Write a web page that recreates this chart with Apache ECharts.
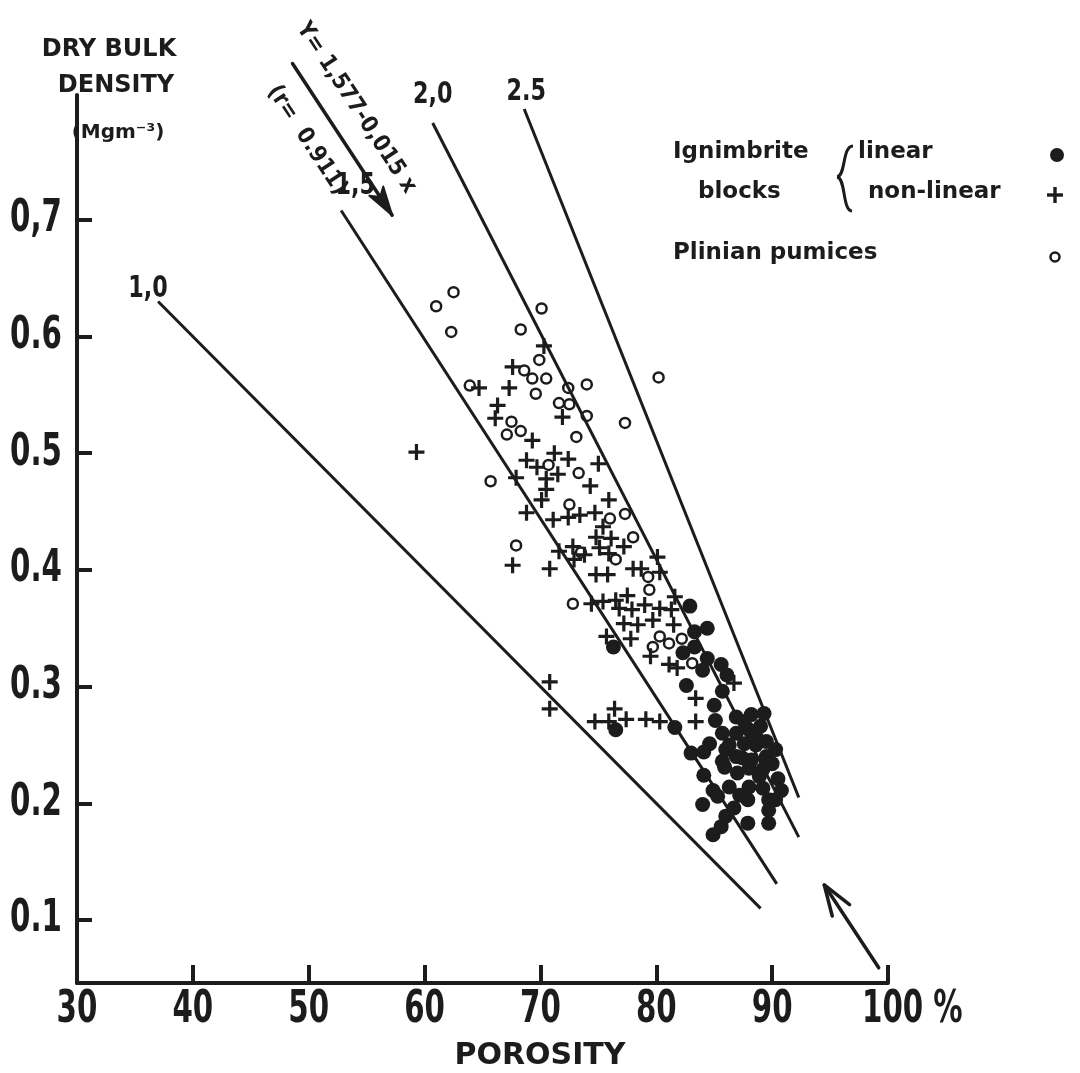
<!DOCTYPE html>
<html>
<head>
<meta charset="utf-8">
<title>Dry bulk density vs porosity</title>
<script src="https://cdn.jsdelivr.net/npm/echarts@6/dist/echarts.min.js"></script>
<style>
  html, body { margin: 0; padding: 0; background: #ffffff; }
  #chart { width: 1080px; height: 1073px; }
</style>
</head>
<body>
<div id="chart"></div>
<script>
// ---- Sample values: [porosity %, dry bulk density Mg m^-3] ----
const linearBlocks = [
  [76.3,0.334],[76.5,0.263],[81.6,0.265],[82.9,0.369],[83.3,0.347],[84.4,0.350],[83.3,0.334],
  [82.3,0.329],[84.4,0.324],[85.6,0.319],[84.0,0.314],[86.1,0.310],[82.6,0.301],[85.7,0.296],
  [85.0,0.284],[85.1,0.271],[86.9,0.274],[88.2,0.276],[89.3,0.277],[85.7,0.260],[86.9,0.260],
  [88.0,0.263],[89.0,0.266],[84.6,0.251],[86.3,0.250],[87.6,0.251],[88.6,0.250],[89.5,0.253],
  [83.0,0.243],[84.1,0.244],[85.7,0.236],[86.9,0.240],[88.2,0.237],[89.5,0.240],[90.0,0.234],
  [84.1,0.224],[85.9,0.231],[87.0,0.226],[88.0,0.230],[89.2,0.229],[90.5,0.221],[84.9,0.211],
  [86.3,0.214],[88.0,0.214],[89.2,0.213],[90.8,0.211],[84.0,0.199],[85.3,0.206],[87.9,0.203],
  [89.7,0.203],[86.7,0.196],[89.7,0.194],[89.7,0.183],[86.0,0.189],[87.9,0.183],[85.6,0.180],
  [84.9,0.173],[90.3,0.203],[87.6,0.270],[88.6,0.257],[87.4,0.239],[88.9,0.223],[87.2,0.207],
  [86.0,0.246],[90.3,0.246]
];

const nonLinearBlocks = [
  [70.3,0.592],[67.6,0.574],[64.7,0.556],[67.3,0.556],[66.3,0.541],[66.1,0.530],[71.9,0.531],
  [59.3,0.501],[69.3,0.511],[71.2,0.500],[72.4,0.495],[68.8,0.494],[69.7,0.488],[75.0,0.491],
  [71.5,0.482],[70.5,0.478],[67.9,0.479],[74.3,0.472],[70.5,0.469],[70.1,0.460],[75.9,0.460],
  [68.8,0.449],[71.1,0.443],[72.4,0.445],[73.4,0.447],[74.7,0.449],[75.4,0.437],[74.8,0.428],
  [76.1,0.427],[77.2,0.420],[75.1,0.419],[75.9,0.414],[72.8,0.420],[71.6,0.416],[72.9,0.409],
  [73.8,0.413],[67.6,0.404],[70.8,0.401],[80.1,0.411],[78.0,0.401],[78.7,0.401],[74.8,0.396],
  [75.8,0.396],[80.3,0.398],[74.4,0.371],[75.4,0.373],[76.5,0.374],[77.5,0.378],[76.8,0.367],
  [77.9,0.366],[79.0,0.370],[80.3,0.367],[81.3,0.366],[77.2,0.354],[78.4,0.353],[79.7,0.357],
  [81.5,0.353],[77.8,0.341],[75.7,0.343],[79.5,0.326],[81.1,0.319],[81.8,0.316],[81.6,0.377],
  [86.7,0.303],[83.4,0.290],[70.8,0.304],[70.8,0.281],[74.7,0.270],[75.9,0.270],[76.4,0.281],
  [77.4,0.272],[79.1,0.272],[80.3,0.270],[83.4,0.270]
];

const plinianPumices = [
  [62.5,0.638],[61.0,0.626],[62.3,0.604],[70.1,0.624],[68.3,0.606],[69.9,0.580],[68.6,0.571],
  [69.3,0.564],[70.5,0.564],[69.6,0.551],[72.4,0.556],[74.0,0.559],[71.6,0.543],[72.5,0.542],
  [74.0,0.532],[80.2,0.565],[77.3,0.526],[63.9,0.558],[67.5,0.527],[68.3,0.519],[67.1,0.516],
  [73.1,0.514],[65.7,0.476],[70.7,0.490],[73.3,0.483],[72.5,0.456],[76.0,0.444],[77.3,0.448],
  [78.0,0.428],[67.9,0.421],[73.5,0.415],[76.5,0.409],[79.3,0.394],[79.4,0.383],[72.8,0.371],
  [80.3,0.343],[79.7,0.334],[81.1,0.337],[82.2,0.341],[83.1,0.320]
];

// ---- Lines of equal grain density ----
const grainLabels       = ['1,0', '1,5', '2,0', '2.5'];
const lineStartPorosity = [37.0, 52.8, 60.7, 68.6];
const lineStartDensity  = [0.630, 0.708, 0.783, 0.795];
const lineEndPorosity   = [89.0, 90.4, 92.3, 92.3];
const lineEndDensity    = [0.110, 0.131, 0.171, 0.205];

// ---- Axes ----
const xTicks      = [30, 40, 50, 60, 70, 80, 90, 100];
const xTickLabels = ['30', '40', '50', '60', '70', '80', '90', '100 %'];
const yTicks      = [0.1, 0.2, 0.3, 0.4, 0.5, 0.6, 0.7];
const yTickLabels = ['0.1', '0.2', '0.3', '0.4', '0.5', '0.6', '0,7'];
const Y_MIN = 0.046, Y_MAX = 0.807;

// ---- Regression note and the pointer near 100 % ----
const regressionText = ['Y= 1,577-0,015 x', '(r=  0.911)'];
const regressionArrow = [[48.6, 0.834], [57.2, 0.704]];   // tail, tip
const cornerArrow     = [[99.2, 0.059], [94.5, 0.130]];   // tail, tip

// ---------------------------------------------------------------
const INK = '#1c1c1c';
const NUM_FONT = '"DejaVu Sans Condensed", "DejaVu Sans", sans-serif';
const TXT_FONT = '"DejaVu Sans", sans-serif';
const PLUS_PATH = 'path://M-1,-5L1,-5L1,-1L5,-1L5,1L1,1L1,5L-1,5L-1,1L-5,1L-5,-1L-1,-1Z';

const lineSeries = grainLabels.map((name, i) => ({
  name: 'grain density ' + name,
  type: 'line',
  silent: true,
  symbol: 'none',
  z: 1,
  lineStyle: { color: INK, width: 3 },
  data: [[lineStartPorosity[i], lineStartDensity[i]], [lineEndPorosity[i], lineEndDensity[i]]]
}));

const option = {
  backgroundColor: '#ffffff',
  animation: false,
  grid: { left: 77, right: 192, top: 95, bottom: 90, containLabel: false, outerBoundsMode: 'none' },
  xAxis: {
    type: 'value', min: 30, max: 100, interval: 10,
    axisLine: { show: true, lineStyle: { color: INK, width: 4 } },
    axisTick: { show: true, inside: true, length: 18, lineStyle: { color: INK, width: 4 } },
    splitLine: { show: false },
    axisLabel: { show: false }
  },
  yAxis: {
    type: 'value', min: Y_MIN, max: Y_MAX,
    axisLine: { show: true, lineStyle: { color: INK, width: 4 } },
    axisTick: { show: true, inside: true, length: 15, customValues: yTicks, lineStyle: { color: INK, width: 4 } },
    splitLine: { show: false },
    axisLabel: { show: false }
  },
  series: lineSeries.concat([
    {
      name: 'linear', type: 'scatter', z: 4, symbol: 'circle', symbolSize: 15,
      itemStyle: { color: INK, opacity: 1 },
      data: linearBlocks
    },
    {
      name: 'non-linear', type: 'scatter', z: 3, symbol: PLUS_PATH, symbolSize: 16,
      itemStyle: { color: INK, opacity: 1 },
      data: nonLinearBlocks
    },
    {
      name: 'Plinian pumices', type: 'scatter', z: 3, symbol: 'circle', symbolSize: 10,
      itemStyle: { color: 'rgba(255,255,255,0)', borderColor: INK, borderWidth: 2.5, opacity: 1 },
      data: plinianPumices
    }
  ])
};

const chart = echarts.init(document.getElementById('chart'), null, { renderer: 'canvas' });
chart.setOption(option);

// ---- text and annotations placed through the axes ----
const toPx = pt => chart.convertToPixel({ gridIndex: 0 }, pt);

function txt(text, x, y, size, opts) {
  opts = opts || {};
  return {
    type: 'text', x: x, y: y, rotation: opts.rotation || 0, z: 10,
    scaleX: opts.scaleX || 1,
    style: {
      text: text, fill: INK,
      font: (opts.weight || 'bold') + ' ' + size + 'px ' + (opts.family || TXT_FONT),
      align: opts.align || 'center', textAlign: opts.align || 'center',
      verticalAlign: 'middle', textVerticalAlign: 'middle'
    }
  };
}

function wings(tip, tail, len, ang) {
  const dx = tail[0] - tip[0], dy = tail[1] - tip[1];
  const L = Math.hypot(dx, dy), ux = dx / L, uy = dy / L;
  const r = a => [tip[0] + len * (ux * Math.cos(a) - uy * Math.sin(a)),
                  tip[1] + len * (ux * Math.sin(a) + uy * Math.cos(a))];
  return [r(ang), r(-ang)];
}

const g = [];
const NUM_SCALE = 0.74;

// tick labels, drawn as narrow lettering
xTicks.forEach((v, i) => {
  const p = toPx([v, Y_MIN]);
  if (v === 100) {
    g.push(txt(xTickLabels[i], p[0] - 26, p[1] + 28, 44, { family: NUM_FONT, align: 'left', scaleX: NUM_SCALE }));
  } else {
    g.push(txt(xTickLabels[i], p[0], p[1] + 28, 44, { family: NUM_FONT, scaleX: NUM_SCALE }));
  }
});
yTicks.forEach((v, i) => {
  const p = toPx([30, v]);
  g.push(txt(yTickLabels[i], p[0] - 15, p[1], 44, { family: NUM_FONT, align: 'right', scaleX: NUM_SCALE }));
});

// grain density labels at the upper end of each line
const labelShift = [[-10, -13], [14, -25], [0, -28], [2, -17]];
grainLabels.forEach((name, i) => {
  const p = toPx([lineStartPorosity[i], lineStartDensity[i]]);
  g.push(txt(name, p[0] + labelShift[i][0], p[1] + labelShift[i][1], 31, { family: NUM_FONT, scaleX: 0.8 }));
});

// regression arrow with its equation written along it
{
  const a = toPx(regressionArrow[0]), b = toPx(regressionArrow[1]);
  g.push({ type: 'line', z: 10, shape: { x1: a[0], y1: a[1], x2: b[0], y2: b[1] },
           style: { stroke: INK, lineWidth: 3.5, lineCap: 'round' } });
  const w = wings(b, a, 30, 0.28);
  g.push({ type: 'polygon', z: 10, shape: { points: [w[0], b, w[1], [b[0] - (b[0] - a[0]) * 0.12, b[1] - (b[1] - a[1]) * 0.12]] },
           style: { fill: INK, stroke: INK, lineWidth: 2, lineJoin: 'round' } });
  const L = Math.hypot(b[0] - a[0], b[1] - a[1]);
  const ux = (b[0] - a[0]) / L, uy = (b[1] - a[1]) / L;
  const nx = uy, ny = -ux;   // normal towards upper right
  const ang = Math.atan2(b[1] - a[1], b[0] - a[0]);
  const c1 = [a[0] + ux * 72 + nx * 29, a[1] + uy * 72 + ny * 29];
  const c2 = [a[0] + ux * 72 - nx * 30, a[1] + uy * 72 - ny * 30];
  g.push(txt(regressionText[0], c1[0], c1[1], 23, { rotation: -ang, family: NUM_FONT }));
  g.push(txt(regressionText[1], c2[0], c2[1], 23, { rotation: -ang, family: NUM_FONT }));
}

// pointer rising from 100 %
{
  const a = toPx(cornerArrow[0]), b = toPx(cornerArrow[1]);
  g.push({ type: 'line', z: 10, shape: { x1: a[0], y1: a[1], x2: b[0], y2: b[1] },
           style: { stroke: INK, lineWidth: 3.5, lineCap: 'round' } });
  const w = wings(b, a, 32, 0.33);
  g.push({ type: 'polyline', z: 10, shape: { points: [w[0], b, w[1]] },
           style: { stroke: INK, lineWidth: 3.5, lineCap: 'round', lineJoin: 'round', fill: null } });
}

// y axis title
g.push(txt('DRY BULK', 109, 50, 24));
g.push(txt('DENSITY', 116, 86, 24));
g.push(txt('(Mgm\u207B\u00B3)', 118, 133, 20));

// x axis title
g.push(txt('POROSITY', 540, 1056, 30));

// key
g.push(txt('Ignimbrite', 673, 152, 23, { align: 'left' }));
g.push(txt('blocks', 698, 192, 23, { align: 'left' }));
g.push(txt('linear', 858, 152, 23, { align: 'left' }));
g.push(txt('non-linear', 868, 192, 23, { align: 'left' }));
g.push(txt('Plinian pumices', 673, 253, 23, { align: 'left' }));
g.push({ type: 'bezierCurve', z: 10,
         shape: { x1: 853, y1: 146, cpx1: 842, cpy1: 146, cpx2: 846, cpy2: 176, x2: 837, y2: 177 },
         style: { stroke: INK, lineWidth: 3, fill: null } });
g.push({ type: 'bezierCurve', z: 10,
         shape: { x1: 837, y1: 177, cpx1: 846, cpy1: 178, cpx2: 842, cpy2: 210, x2: 852, y2: 211 },
         style: { stroke: INK, lineWidth: 3, fill: null } });
g.push({ type: 'circle', z: 10, shape: { cx: 1057, cy: 155, r: 7 }, style: { fill: INK } });
g.push({ type: 'line', z: 10, shape: { x1: 1047, y1: 195, x2: 1063, y2: 195 }, style: { stroke: INK, lineWidth: 3.4 } });
g.push({ type: 'line', z: 10, shape: { x1: 1055, y1: 187, x2: 1055, y2: 203 }, style: { stroke: INK, lineWidth: 3.4 } });
g.push({ type: 'circle', z: 10, shape: { cx: 1055, cy: 257, r: 4.5 }, style: { fill: 'none', stroke: INK, lineWidth: 2.5 } });

chart.setOption({ graphic: { elements: g } });
</script>
</body>
</html>
